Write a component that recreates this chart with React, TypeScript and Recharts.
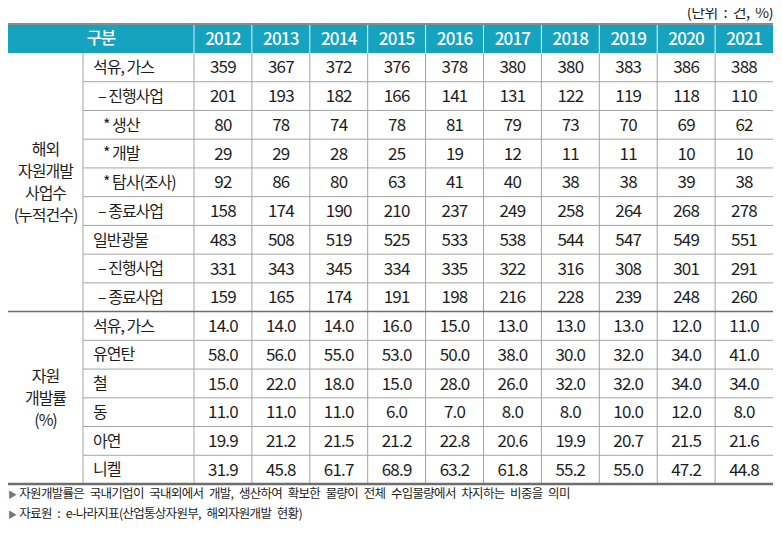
import React from 'react';
import { ScatterChart, Scatter, XAxis, YAxis, ReferenceLine } from 'recharts';

// Table content
const YEARS = ['2012', '2013', '2014', '2015', '2016', '2017', '2018', '2019', '2020', '2021'];

const ROW_LABELS = [
  '석유, 가스',
  '– 진행사업',
  '* 생산',
  '* 개발',
  '* 탐사(조사)',
  '– 종료사업',
  '일반광물',
  '– 진행사업',
  '– 종료사업',
  '석유, 가스',
  '유연탄',
  '철',
  '동',
  '아연',
  '니켈',
];

const GROUP1_LABEL = ['해외', '자원개발', '사업수', '(누적건수)'];
const GROUP2_LABEL = ['자원', '개발률', '(%)'];

// 해외 자원개발 사업수 (누적건수)
const OIL_GAS_COUNT = [359, 367, 372, 376, 378, 380, 380, 383, 386, 388];
const OIL_GAS_ONGOING = [201, 193, 182, 166, 141, 131, 122, 119, 118, 110];
const OIL_GAS_PRODUCTION = [80, 78, 74, 78, 81, 79, 73, 70, 69, 62];
const OIL_GAS_DEVELOPMENT = [29, 29, 28, 25, 19, 12, 11, 11, 10, 10];
const OIL_GAS_EXPLORATION = [92, 86, 80, 63, 41, 40, 38, 38, 39, 38];
const OIL_GAS_CLOSED = [158, 174, 190, 210, 237, 249, 258, 264, 268, 278];
const MINERAL_COUNT = [483, 508, 519, 525, 533, 538, 544, 547, 549, 551];
const MINERAL_ONGOING = [331, 343, 345, 334, 335, 322, 316, 308, 301, 291];
const MINERAL_CLOSED = [159, 165, 174, 191, 198, 216, 228, 239, 248, 260];

// 자원 개발률 (%)
const RATE_OIL_GAS = [14.0, 14.0, 14.0, 16.0, 15.0, 13.0, 13.0, 13.0, 12.0, 11.0];
const RATE_COAL = [58.0, 56.0, 55.0, 53.0, 50.0, 38.0, 30.0, 32.0, 34.0, 41.0];
const RATE_IRON = [15.0, 22.0, 18.0, 15.0, 28.0, 26.0, 32.0, 32.0, 34.0, 34.0];
const RATE_COPPER = [11.0, 11.0, 11.0, 6.0, 7.0, 8.0, 8.0, 10.0, 12.0, 8.0];
const RATE_ZINC = [19.9, 21.2, 21.5, 21.2, 22.8, 20.6, 19.9, 20.7, 21.5, 21.6];
const RATE_NICKEL = [31.9, 45.8, 61.7, 68.9, 63.2, 61.8, 55.2, 55.0, 47.2, 44.8];

const COUNT_ROWS = [
  OIL_GAS_COUNT, OIL_GAS_ONGOING, OIL_GAS_PRODUCTION, OIL_GAS_DEVELOPMENT,
  OIL_GAS_EXPLORATION, OIL_GAS_CLOSED, MINERAL_COUNT, MINERAL_ONGOING, MINERAL_CLOSED,
];
const RATE_ROWS = [RATE_OIL_GAS, RATE_COAL, RATE_IRON, RATE_COPPER, RATE_ZINC, RATE_NICKEL];

const UNIT_NOTE = '(단위 : 건, %)';
const FOOTNOTES = [
  '자원개발률은 국내기업이 국내외에서 개발, 생산하여 확보한 물량이 전체 수입물량에서 차지하는 비중을 의미',
  '자료원 : e-나라지표(산업통상자원부, 해외자원개발 현황)',
];

// layout
const W = 774;
const H = 526;
const TOP = 16;
const HEAD_H = 29;
const LEFT_W = 186;
const RIGHT_M = 9;
const BOTTOM_M = 50;
const GROUP_X = 75;
const COL_W = (W - LEFT_W - RIGHT_M) / YEARS.length;
const ROW_H = (H - TOP - HEAD_H - BOTTOM_M) / ROW_LABELS.length;

const TEAL = '#16a3bf';
const GRID = '#a3a3a3';
const DARK = '#6e6e6e';
const TEXT = '#1e1e1e';
const FONT = "'Noto Sans CJK KR', 'Noto Sans', sans-serif";

const GROUP1_END = COUNT_ROWS.length; // 9

// one point per cell, positioned by the axes
const cells = [
  ...COUNT_ROWS.flatMap((vals, r) =>
    vals.map((v, c) => ({ x: c + 0.5, y: r + 0.5, label: String(v) }))
  ),
  ...RATE_ROWS.flatMap((vals, r) =>
    vals.map((v, c) => ({ x: c + 0.5, y: GROUP1_END + r + 0.5, label: v.toFixed(1) }))
  ),
];

const xTicks = YEARS.map((_, i) => i + 0.5);
const yTicks = ROW_LABELS.map((_, i) => i + 0.5);
const colLines = YEARS.map((_, i) => i); // 0..9, no right border
const rowLines = ROW_LABELS.map((_, i) => i).filter((i) => i > 0 && i !== GROUP1_END);

// eslint-disable-next-line @typescript-eslint/no-explicit-any
function HeaderTick(props: any) {
  const { x, payload } = props;
  const i = Math.floor(payload.value);
  const left = x - COL_W / 2;
  const midY = TOP + HEAD_H / 2;
  return (
    <g>
      {i === 0 && (
        <g>
          <rect x={0} y={TOP} width={left} height={HEAD_H} fill={TEAL} />
          <line x1={0} x2={left} y1={TOP} y2={TOP} stroke="#8a8a8a" strokeWidth={2} />
          <text x={left / 2} y={midY} dy="0.36em" textAnchor="middle" fill="#fff"
            fontSize={16.5} fontWeight={500} fontFamily={FONT} letterSpacing={-1}>
            구분
          </text>
        </g>
      )}
      <rect x={left} y={TOP} width={COL_W} height={HEAD_H} fill={TEAL} />
      <line x1={left} x2={left + COL_W} y1={TOP} y2={TOP} stroke="#8a8a8a" strokeWidth={2} />
      <line x1={left} x2={left} y1={TOP + 1} y2={TOP + HEAD_H} stroke="#d8f0f5" strokeWidth={1} />
      <text x={x} y={midY} dy="0.36em" textAnchor="middle" fill="#fff"
        fontSize={17} fontWeight={500} fontFamily={FONT} letterSpacing={-0.8}>
        {YEARS[i]}
      </text>
    </g>
  );
}

// eslint-disable-next-line @typescript-eslint/no-explicit-any
function RowTick(props: any) {
  const { y, payload } = props;
  const r = Math.floor(payload.value);
  const top = y - ROW_H / 2;
  const bottom = y + ROW_H / 2;
  const label = ROW_LABELS[r];
  const indent = label.startsWith('–') ? 5 : label.startsWith('*') ? 10 : 0;
  const groupEnd = r === GROUP1_END - 1;
  const lastRow = r === ROW_LABELS.length - 1;

  const groupText = (lines: string[], cy: number) =>
    lines.map((t, k) => (
      <text key={k} x={GROUP_X / 2} y={cy + (k - (lines.length - 1) / 2) * 22} dy="0.36em"
        textAnchor="middle" fill={TEXT} fontSize={16} fontFamily={FONT} letterSpacing={-1}>
        {t}
      </text>
    ));

  return (
    <g>
      <line x1={GROUP_X} x2={GROUP_X} y1={top} y2={bottom} stroke={GRID} />
      {!groupEnd && !lastRow && (
        <line x1={GROUP_X} x2={LEFT_W} y1={bottom} y2={bottom} stroke={GRID} />
      )}
      {groupEnd && <line x1={0} x2={LEFT_W} y1={bottom} y2={bottom} stroke={DARK} strokeWidth={1.5} />}
      {lastRow && <line x1={0} x2={LEFT_W} y1={bottom} y2={bottom} stroke={DARK} strokeWidth={2.5} />}
      <text x={GROUP_X + 10 + indent} y={y} dy="0.36em" fill={TEXT} fontSize={16}
        fontFamily={FONT} letterSpacing={-1}>
        {label}
      </text>
      {r === 4 && groupText(GROUP1_LABEL, y)}
      {r === 11 && groupText(GROUP2_LABEL, bottom)}
    </g>
  );
}

// eslint-disable-next-line @typescript-eslint/no-explicit-any
function CellText(props: any) {
  const { cx, cy, payload } = props;
  return (
    <text x={cx} y={cy} dy="0.36em" textAnchor="middle" fill={TEXT} fontSize={17}
      fontFamily={FONT} letterSpacing={-0.8}>
      {payload.label}
    </text>
  );
}

export default function App() {
  return (
    <div style={{ position: 'relative', width: W, height: H, fontFamily: FONT, color: TEXT }}>
      <div style={{ position: 'absolute', right: RIGHT_M, top: -6, fontSize: 15, letterSpacing: -0.6, wordSpacing: 3, lineHeight: '20px' }}>
        {UNIT_NOTE}
      </div>
      <ScatterChart width={W} height={H} margin={{ top: TOP, right: RIGHT_M, bottom: BOTTOM_M, left: 0 }}>
        <XAxis
          xAxisId={0}
          type="number"
          dataKey="x"
          orientation="top"
          domain={[0, YEARS.length]}
          ticks={xTicks}
          interval={0}
          height={HEAD_H}
          axisLine={false}
          tickLine={false}
          tick={<HeaderTick />}
        />
        <YAxis
          yAxisId={0}
          type="number"
          dataKey="y"
          domain={[0, ROW_LABELS.length]}
          reversed
          ticks={yTicks}
          interval={0}
          width={LEFT_W}
          axisLine={false}
          tickLine={false}
          tick={<RowTick />}
        />
        {rowLines.map((v) => (
          <ReferenceLine key={`r${v}`} y={v} stroke={GRID} strokeWidth={1} />
        ))}
        {colLines.map((v) => (
          <ReferenceLine key={`c${v}`} x={v} stroke={GRID} strokeWidth={1} />
        ))}
        <ReferenceLine y={GROUP1_END} stroke={DARK} strokeWidth={1.5} />
        <ReferenceLine y={ROW_LABELS.length} stroke={DARK} strokeWidth={2.5} />
        <Scatter data={cells} shape={<CellText />} isAnimationActive={false} />
      </ScatterChart>
      {FOOTNOTES.map((t, i) => (
        <div key={i} style={{ position: 'absolute', left: 0, top: 475 + i * 20, fontSize: 12.5, lineHeight: '20px', letterSpacing: -0.7, wordSpacing: 3.5, whiteSpace: 'nowrap' }}>
          <span style={{ color: '#777', fontSize: 9, marginRight: 3 }}>▶</span>
          {t}
        </div>
      ))}
    </div>
  );
}
